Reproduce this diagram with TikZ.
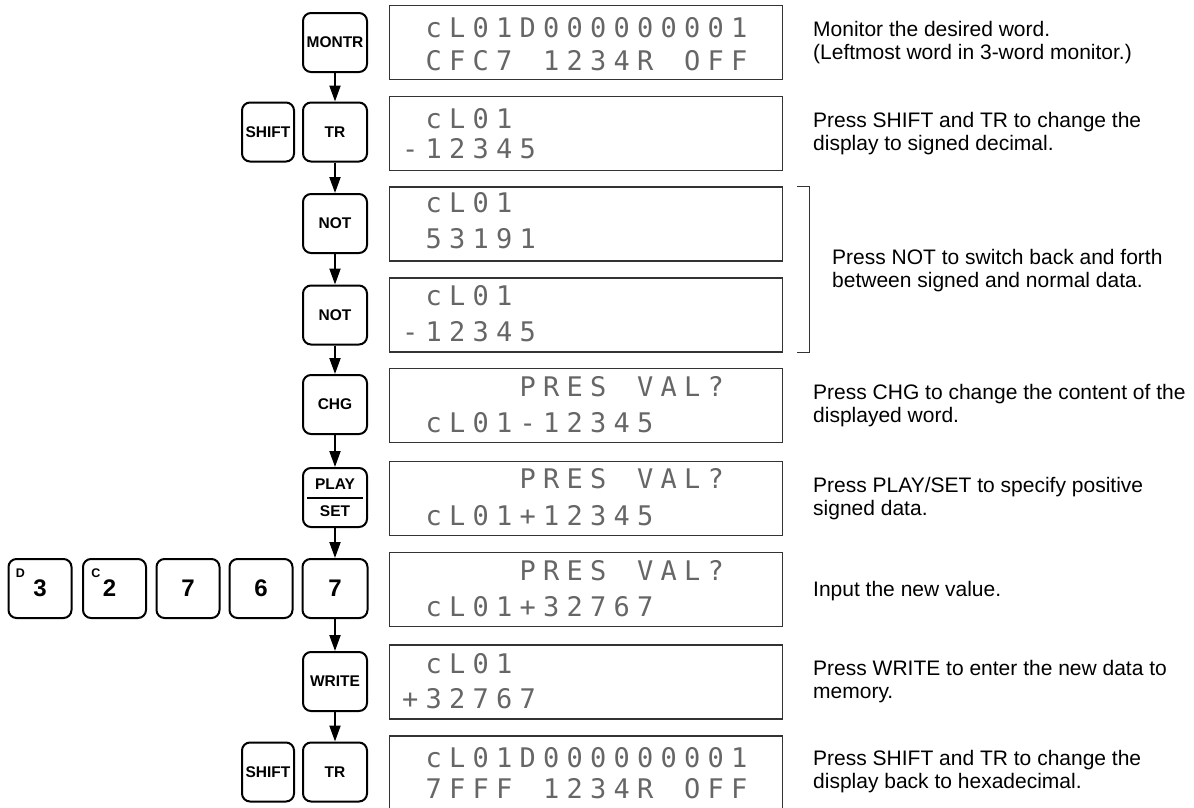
\documentclass[tikz,border=0pt]{standalone}
\usepackage{fontspec}
\setmainfont{Liberation Sans}
\newfontfamily\lcdfont{DejaVu Sans Mono}
\usetikzlibrary{arrows.meta,calc}
\newcommand\lcdcell[1]{\makebox[23.5pt][c]{#1}}
\def\lcdend{LCDEND}
\def\lcdloop#1{\ifx#1\lcdend\else\lcdcell{#1}\expandafter\lcdloop\fi}
\newcommand\lcd[1]{\lcdloop#1\lcdend}
\tikzset{
  key/.style={draw, line width=2pt, rounded corners=8pt, rectangle, inner sep=0pt,
    minimum width=64pt, minimum height=59pt,
    font=\fontsize{15.5}{18}\selectfont\bfseries},
  numkey/.style={key, minimum width=63pt, font=\fontsize{24}{26}\selectfont\bfseries},
  supkey/.style={inner sep=0pt, font=\fontsize{12.5}{13}\selectfont\bfseries},
  lcdbox/.style={draw=black!80, line width=1.3pt, rectangle, inner sep=0pt,
    minimum width=393pt, minimum height=74pt},
  lcdtxt/.style={anchor=base west, inner sep=0pt, text=black!60,
    font=\fontsize{27}{28}\selectfont\lcdfont},
  desc/.style={anchor=west, align=left, inner sep=0pt,
    font=\fontsize{21}{23}\selectfont},
  conn/.style={-{Triangle[length=16pt,width=11pt]}, line width=2pt},
  bracket/.style={draw=black!80, line width=1.3pt}
}
\begin{document}
\begin{tikzpicture}[x=1pt,y=-1pt]
\path[use as bounding box, clip] (0,0) rectangle (1194,807);
% keys in the column
\node[key] (montr) at (335,42.5) {MONTR};
\node[key] (tr1) at (335,132) {TR};
\node[key, minimum width=52pt] (sh1) at (268,132) {SHIFT};
\node[key] (not1) at (335,223.5) {NOT};
\node[key] (not2) at (335,315) {NOT};
\node[key] (chg) at (335,404.5) {CHG};
\node[key] (ps) at (335,497.5) {};
\node[key, draw=none, minimum height=0pt, minimum width=0pt] (psa) at ($(ps.center)+(0,-13)$) {PLAY};
\node[key, draw=none, minimum height=0pt, minimum width=0pt] (psb) at ($(ps.center)+(0,14)$) {SET};
\draw[line width=2pt] ($(ps.west)+(5,0)$) -- ($(ps.east)+(-5,0)$);
\node[numkey, minimum width=65pt] (k7) at (335,588.5) {7};
\node[numkey] (k6) at (261,588.5) {\raisebox{-4pt}{6}};
\node[numkey] (k7b) at (188,588.5) {7};
\node[numkey] (k2) at (114.5,588.5) {\hspace*{-10pt}2};
\node[numkey] (k3) at (40,588.5) {3};
\node[supkey] (sd) at ($(k3.north west)+(13,15)$) {D};
\node[supkey] (sc) at ($(k2.north west)+(14,15)$) {C};
\node[key] (write) at (335,681.5) {WRITE};
\node[key] (tr2) at (335,772) {TR};
\node[key, minimum width=52pt] (sh2) at (268,772) {SHIFT};
% connectors
\draw[conn] (montr) -- (tr1);
\draw[conn] (tr1) -- (not1);
\draw[conn] (not1) -- (not2);
\draw[conn] (not2) -- (chg);
\draw[conn] (chg) -- (ps);
\draw[conn] (ps) -- (k7);
\draw[conn] (k7) -- (write);
\draw[conn] (write) -- (tr2);
% displays
\node[lcdbox] (d1) at (586,42.5) {};
\node[lcdbox] (d2) at (586,133.5) {};
\node[lcdbox] (d3) at (586,224) {};
\node[lcdbox] (d4) at (586,315) {};
\node[lcdbox] (d5) at (586,405.5) {};
\node[lcdbox] (d6) at (586,498.5) {};
\node[lcdbox] (d7) at (586,589.5) {};
\node[lcdbox] (d8) at (586,682) {};
\node[lcdbox] (d9) at (586,773) {};
% display texts
\node[lcdtxt] (t1a) at (398.25,37) {\lcd{~cL01D000000001}};
\node[lcdtxt] (t1b) at (398.25,70.5) {\lcd{~CFC7~1234R~OFF}};
\node[lcdtxt] (t2a) at (398.25,128.5) {\lcd{~cL01}};
\node[lcdtxt] (t2b) at (398.25,158.5) {\lcd{-12345}};
\node[lcdtxt] (t3a) at (398.25,212.5) {\lcd{~cL01}};
\node[lcdtxt] (t3b) at (398.25,248.5) {\lcd{~53191}};
\node[lcdtxt] (t4a) at (398.25,305.5) {\lcd{~cL01}};
\node[lcdtxt] (t4b) at (398.25,341.5) {\lcd{-12345}};
\node[lcdtxt] (t5a) at (398.25,396) {\lcd{~~~~~PRES~VAL?}};
\node[lcdtxt] (t5b) at (398.25,432) {\lcd{~cL01-12345}};
\node[lcdtxt] (t6a) at (398.25,488) {\lcd{~~~~~PRES~VAL?}};
\node[lcdtxt] (t6b) at (398.25,525.5) {\lcd{~cL01+12345}};
\node[lcdtxt] (t7a) at (398.25,580) {\lcd{~~~~~PRES~VAL?}};
\node[lcdtxt] (t7b) at (398.25,616) {\lcd{~cL01+32767}};
\node[lcdtxt] (t8a) at (398.25,673) {\lcd{~cL01}};
\node[lcdtxt] (t8b) at (398.25,708) {\lcd{+32767}};
\node[lcdtxt] (t9a) at (398.25,767) {\lcd{~cL01D000000001}};
\node[lcdtxt] (t9b) at (398.25,798) {\lcd{~7FFF~1234R~OFF}};
% bracket
\draw[bracket] ($(d3.north east)+(14,0)$) -- ($(d3.north east)+(26,0)$) |- ($(d4.south east)+(14,0)$);
% descriptions
\node[desc] (e1) at (813,43) {Monitor the desired word.\\(Leftmost word in 3-word monitor.)};
\node[desc] (e2) at (813,133.5) {Press SHIFT and TR to change the\\display to signed decimal.};
\node[desc] (e3) at (832,271) {Press NOT to switch back and forth\\between signed and normal data.};
\node[desc] (e4) at (813,405.5) {Press CHG to change the content of the\\displayed word.};
\node[desc] (e5) at (813,498.5) {Press PLAY/SET to specify positive\\signed data.};
\node[desc] (e6) at (813,591) {Input the new value.};
\node[desc] (e7) at (813,682) {Press WRITE to enter the new data to\\memory.};
\node[desc] (e8) at (813,772) {Press SHIFT and TR to change the\\display back to hexadecimal.};
\end{tikzpicture}
\end{document}
